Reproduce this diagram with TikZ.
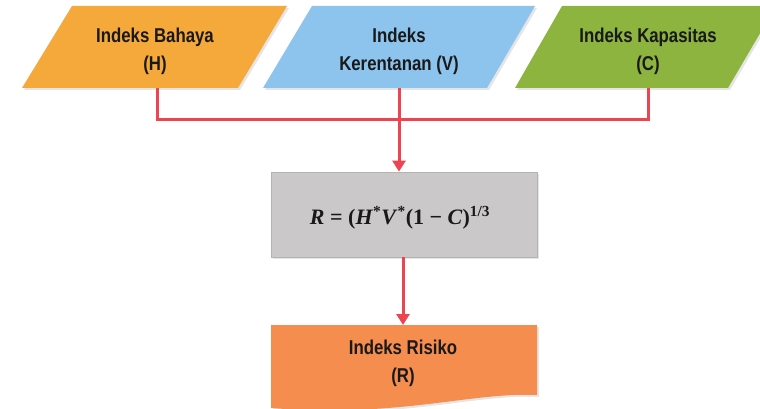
\documentclass[tikz,border=0pt]{standalone}
\usepackage[no-math]{fontspec}
\newfontfamily\labfont{Liberation Sans}[FakeStretch=0.84]
\newfontfamily\frmfont{Liberation Serif}
\usetikzlibrary{arrows.meta}
\definecolor{hazOr}{HTML}{F6A93B}
\definecolor{vulBl}{HTML}{8DC4EE}
\definecolor{capGr}{HTML}{8CB43F}
\definecolor{frmGy}{HTML}{CBC8CA}
\definecolor{frmGyD}{HTML}{B5B2B4}
\definecolor{riskOr}{HTML}{F58D4E}
\definecolor{linkRd}{HTML}{EE4350}
\newcommand{\frmsize}{\fontsize{22}{26}\selectfont}
\newcommand{\labsize}{\fontsize{20}{28}\selectfont}
\newcommand{\vr}[1]{\textit{#1}}
\tikzset{
  shadowfill/.style={fill=black, fill opacity=0.10},
  lab/.style={font=\labfont\bfseries\labsize, align=center, text=black!90, inner sep=0pt},
  frmtext/.style={font=\frmfont\bfseries\frmsize, inner sep=0pt, text=black!90},
  link/.style={draw=linkRd, line width=3pt},
  linkarrow/.style={link, -{Triangle[width=13pt,length=11pt]}},
  formulabox/.style={fill=frmGy, draw=frmGyD, line width=0.8pt, minimum width=266pt, minimum height=85pt, inner sep=0pt}
}
\begin{document}
\begin{tikzpicture}[x=1pt,y=-1pt]
\useasboundingbox (0,0) rectangle (760,409);
\clip (0,0) rectangle (760,409);
% parallelogram shadows
\fill[shadowfill] (74,8) -- (289,8) -- (240,90) -- (24,90) -- cycle;
\fill[shadowfill] (314,8) -- (537,8) -- (489,90) -- (265,90) -- cycle;
\fill[shadowfill] (564,8) -- (778,8) -- (730,90) -- (517,90) -- cycle;
% parallelograms
\fill[hazOr] (72,6) -- (287,6) -- (238,88) -- (22,88) -- cycle;
\fill[vulBl] (312,6) -- (535,6) -- (487,88) -- (263,88) -- cycle;
\fill[capGr] (562,6) -- (776,6) -- (728,88) -- (515,88) -- cycle;
\node[lab] (haz) at (155,51) {Indeks Bahaya\\(H)};
\node[lab] (vul) at (399,51) {Indeks\\Kerentanan (V)};
\node[lab] (cap) at (648,51) {Indeks Kapasitas\\(C)};
\coordinate (hazB) at (157,88);
\coordinate (vulB) at (399,88);
\coordinate (capB) at (648,88);
% formula box
\fill[shadowfill] (273,174) rectangle (539,259);
\node[formulabox] (frm) at (404,214.5) {};
\node[frmtext] (frmT) at (400,218) {\vr{R} = (\vr{H}\textsuperscript{*}\vr{V}\textsuperscript{*}(1 − \vr{C})\textsuperscript{1/3}};
% risk document
\fill[shadowfill] (273,327) -- (539,327) -- (539,397) .. controls (472,394) and (402,420) .. (273,410) -- cycle;
\fill[riskOr] (271,325) -- (537,325) -- (537,395) .. controls (470,392) and (400,418) .. (271,408) -- cycle;
\coordinate (riskT) at (403,325);
\node[lab] (risk) at (403,363) {Indeks Risiko\\(R)};
% connectors
\draw[link] (hazB) -- ++(0,32) -| (capB);
\draw[linkarrow] (vulB) -- (vulB |- frm.north);
\draw[linkarrow] (frm.south -| riskT) -- (riskT);
\end{tikzpicture}
\end{document}
